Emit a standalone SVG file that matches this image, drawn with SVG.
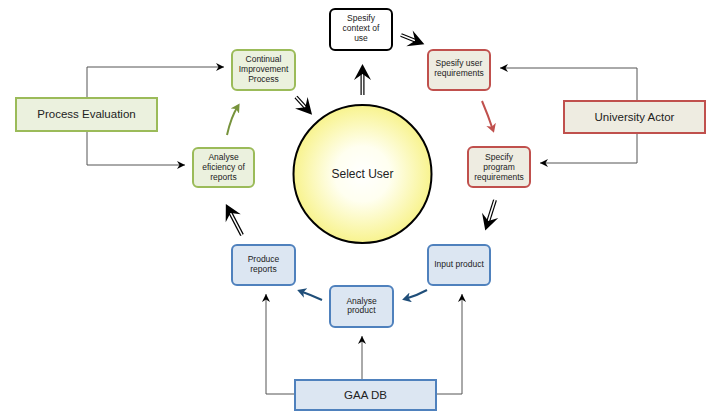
<svg xmlns="http://www.w3.org/2000/svg" width="711" height="412" viewBox="0 0 711 412">
  <defs>
    <radialGradient id="sunFill" cx="0.5" cy="0.5" r="0.5">
      <stop offset="0" stop-color="#ffffff"/>
      <stop offset="0.4" stop-color="#fffff0"/>
      <stop offset="1" stop-color="#f8f38e"/>
    </radialGradient>
    <marker id="thinHead" markerUnits="userSpaceOnUse" markerWidth="12" markerHeight="10" refX="8" refY="4" orient="auto">
      <path d="M0,0 L8,4 L0,8 L2.5,4 Z" fill="#000"/>
    </marker>
    <marker id="bigHead" markerUnits="userSpaceOnUse" markerWidth="22" markerHeight="22" refX="5" refY="9" orient="auto" overflow="visible">
      <path d="M14,9 L-2,0.5 L4,9 L-2,17.5 Z" fill="#000"/>
    </marker>
    <marker id="greenHead" markerUnits="userSpaceOnUse" markerWidth="12" markerHeight="12" refX="6" refY="5" orient="auto">
      <path d="M0,0 L9,5 L0,10 L2.5,5 Z" fill="#77933c"/>
    </marker>
    <marker id="redHead" markerUnits="userSpaceOnUse" markerWidth="12" markerHeight="12" refX="6" refY="5" orient="auto">
      <path d="M0,0 L9,5 L0,10 L2.5,5 Z" fill="#c0504d"/>
    </marker>
    <marker id="blueHead" markerUnits="userSpaceOnUse" markerWidth="12" markerHeight="12" refX="6" refY="5" orient="auto">
      <path d="M0,0 L9,5 L0,10 L2.5,5 Z" fill="#1f4e79"/>
    </marker>
  </defs>
  <style>
    text { font-family: "Liberation Sans", Arial, sans-serif; fill: #222; text-anchor: middle; }
    .small { font-size: 8.5px; }
    .big { font-size: 11.5px; }
    .green { fill: #ebf1de; stroke: #9bbb59; stroke-width: 2; }
    .red { fill: #eeece1; stroke: #c0504d; stroke-width: 2; }
    .blue { fill: #dce6f2; stroke: #4f81bd; stroke-width: 2; }
    .plain { fill: #ffffff; stroke: #000; stroke-width: 2; }
    .link { fill: none; stroke: #555; stroke-width: 1; marker-end: url(#thinHead); }
    .dblOuter { fill: none; stroke: #000; stroke-width: 4; }
    .dblInner { fill: none; stroke: #fff; stroke-width: 1.6; marker-end: url(#bigHead); }
  </style>

  <rect width="711" height="412" fill="#ffffff"/>

  <!-- connectors -->
  <g id="connectors">
    <!-- side actors feeding the cycle -->
    <path class="link" d="M87,98 V67 H224"/>
    <path class="link" d="M87,131 V165 H185"/>
    <path class="link" d="M637,101 V68 H500"/>
    <path class="link" d="M637,133 V163 H540"/>
    <!-- database feeds -->
    <path class="link" d="M295,394 H266 V294"/>
    <path class="link" d="M362,380 V336"/>
    <path class="link" d="M436,394 H462 V294"/>

    <!-- coloured flow arrows -->
    <path d="M227,135 Q231,117 238,106" fill="none" stroke="#77933c" stroke-width="2" marker-end="url(#greenHead)"/>
    <path d="M482,101 Q488,115 493,130" fill="none" stroke="#c0504d" stroke-width="2" marker-end="url(#redHead)"/>
    <path d="M427,290 Q416,296 405,299" fill="none" stroke="#1f4e79" stroke-width="2" marker-end="url(#blueHead)"/>
    <path d="M322,300 Q311,295 300,291" fill="none" stroke="#1f4e79" stroke-width="2" marker-end="url(#blueHead)"/>

    <!-- double-line arrows -->
    <path class="dblOuter" d="M296,97 L306,108"/>
    <path class="dblInner" d="M296,97 L306,108"/>
    <path class="dblOuter" d="M362.5,95 L362.5,73"/>
    <path class="dblInner" d="M362.5,95 L362.5,73"/>
    <path class="dblOuter" d="M401,35 L416,41"/>
    <path class="dblInner" d="M401,35 L416,41"/>
    <path class="dblOuter" d="M495,200 L488,222"/>
    <path class="dblInner" d="M495,200 L488,222"/>
    <path class="dblOuter" d="M242,235 L230,212"/>
    <path class="dblInner" d="M242,235 L230,212"/>
  </g>

  <g id="select-user">
    <circle cx="362.5" cy="174" r="69" fill="url(#sunFill)" stroke="#000" stroke-width="2"/>
    <text class="big" x="362.5" y="178" style="font-size:12px">Select User</text>
  </g>

  <g id="context-of-use">
    <rect class="plain" x="330" y="9" width="62" height="41" rx="5"/>
    <text class="small" x="361" y="21">Spesify</text>
    <text class="small" x="361" y="31">context of</text>
    <text class="small" x="361" y="41">use</text>
  </g>

  <g id="continual-improvement">
    <rect class="green" x="232" y="50" width="63" height="40" rx="5"/>
    <text class="small" x="263.5" y="62">Continual</text>
    <text class="small" x="263.5" y="72">Improvement</text>
    <text class="small" x="263.5" y="82">Process</text>
  </g>

  <g id="user-requirements">
    <rect class="red" x="428" y="50" width="62" height="40" rx="5"/>
    <text class="small" x="459" y="66">Spesify user</text>
    <text class="small" x="459" y="76">requirements</text>
  </g>

  <g id="process-evaluation">
    <rect class="green" x="16" y="98" width="141" height="33"/>
    <text class="big" x="86.5" y="118">Process Evaluation</text>
  </g>

  <g id="analyse-efficiency">
    <rect class="green" x="193" y="148" width="61" height="39" rx="5"/>
    <text class="small" x="223.5" y="160">Analyse</text>
    <text class="small" x="223.5" y="170">eficiency of</text>
    <text class="small" x="223.5" y="180">reports</text>
  </g>

  <g id="university-actor">
    <rect class="red" x="564" y="101" width="141" height="32"/>
    <text class="big" x="634.5" y="121">University Actor</text>
  </g>

  <g id="program-requirements">
    <rect class="red" x="468" y="147" width="62" height="40" rx="5"/>
    <text class="small" x="499" y="160">Specify</text>
    <text class="small" x="499" y="170">program</text>
    <text class="small" x="499" y="180">requirements</text>
  </g>

  <g id="produce-reports">
    <rect class="blue" x="232" y="245" width="63" height="40" rx="5"/>
    <text class="small" x="263.5" y="262">Produce</text>
    <text class="small" x="263.5" y="272">reports</text>
  </g>

  <g id="input-product">
    <rect class="blue" x="428" y="245" width="62" height="40" rx="5"/>
    <text class="small" x="459" y="267">Input product</text>
  </g>

  <g id="analyse-product">
    <rect class="blue" x="330" y="286" width="63" height="41" rx="5"/>
    <text class="small" x="361.5" y="304">Analyse</text>
    <text class="small" x="361.5" y="313">product</text>
  </g>

  <g id="gaa-db">
    <rect class="blue" x="295" y="380" width="141" height="30"/>
    <text class="big" x="365.5" y="399">GAA DB</text>
  </g>
</svg>
